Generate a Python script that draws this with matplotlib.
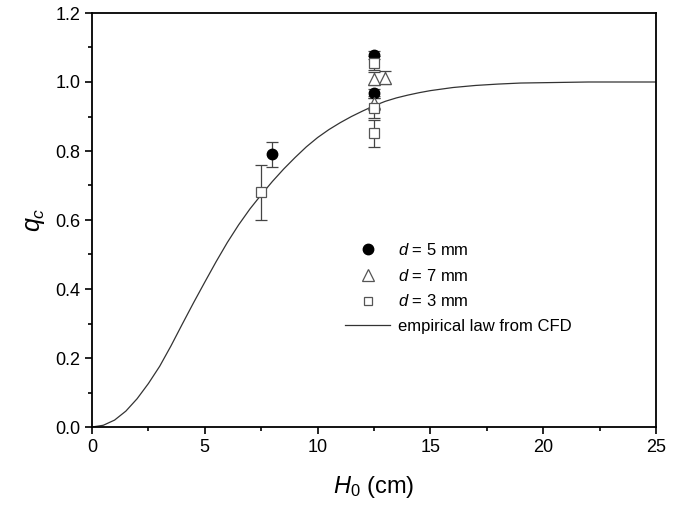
import matplotlib
matplotlib.use("Agg")
import matplotlib.pyplot as plt
from matplotlib.lines import Line2D
from matplotlib.ticker import MultipleLocator, FormatStrFormatter

plt.rcParams['font.family'] = ['Liberation Sans', 'DejaVu Sans']
plt.rcParams['mathtext.fontset'] = 'custom'
plt.rcParams['mathtext.rm'] = 'Liberation Sans'
plt.rcParams['mathtext.it'] = 'Liberation Sans:italic'

# data
h_d5 = [8.0, 12.5, 12.5]
q_d5 = [0.79, 1.078, 0.967]
e_d5 = [0.035, 0.012, 0.012]

h_d7 = [12.5, 12.5, 13.0]
q_d7 = [1.010, 0.940, 1.012]
e_d7 = [0.02, 0.02, 0.019]

h_d3 = [7.5, 12.5, 12.5, 12.5]
q_d3 = [0.680, 1.055, 0.925, 0.851]
e_d3 = [0.08, 0.02, 0.03, 0.04]

h_cfd = [0, 0.5, 1, 1.5, 2, 2.5, 3, 3.5, 4, 4.5, 5, 5.5, 6, 6.5, 7, 7.5, 8, 8.5,
         9, 9.5, 10, 10.5, 11, 11.5, 12, 12.5, 13, 13.5, 14, 14.5, 15, 16, 17,
         18, 19, 20, 21, 22, 23, 24, 25]
q_cfd = [0.0, 0.005, 0.02, 0.046, 0.082, 0.126, 0.176, 0.235, 0.298, 0.36, 0.42,
         0.479, 0.535, 0.586, 0.632, 0.673, 0.712, 0.748, 0.781, 0.812, 0.839,
         0.862, 0.882, 0.9, 0.916, 0.931, 0.944, 0.954, 0.962, 0.969, 0.975,
         0.984, 0.99, 0.994, 0.997, 0.998, 0.999, 1.0, 1.0, 1.0, 1.0]

fig = plt.figure(figsize=(6.9, 5.11), dpi=100)
ax = fig.add_axes([92/690, (511-427)/511, (656-92)/690, (427-13)/511])

ax.plot(h_cfd, q_cfd, color='#333333', lw=0.9, zorder=2)

ebkw = dict(capsize=4, elinewidth=0.9, capthick=0.9, ecolor='#444444', lw=0, zorder=3)
ax.errorbar(h_d5, q_d5, yerr=e_d5, fmt='o', ms=7.5, mfc='black', mec='black', **ebkw)
ax.errorbar(h_d7, q_d7, yerr=e_d7, fmt='^', ms=8, mfc='white', mec='#555555',
            mew=0.9, **ebkw)
ax.errorbar(h_d3, q_d3, yerr=e_d3, fmt='s', ms=7, mfc='white', mec='#555555',
            mew=0.9, **ebkw)

ax.set_xlim(0, 25)
ax.set_ylim(0, 1.2)
ax.xaxis.set_major_locator(MultipleLocator(5))
ax.xaxis.set_minor_locator(MultipleLocator(2.5))
ax.yaxis.set_major_locator(MultipleLocator(0.2))
ax.yaxis.set_minor_locator(MultipleLocator(0.1))
ax.yaxis.set_major_formatter(FormatStrFormatter('%.1f'))
ax.tick_params(which='both', direction='out', top=False, right=False,
               labelsize=13, width=1.2)
ax.tick_params(which='major', length=5)
ax.tick_params(which='minor', length=3)
for s in ax.spines.values():
    s.set_linewidth(1.3)

ax.set_xlabel(r'$H_{\mathrm{0}}$ (cm)', fontsize=17, labelpad=13)
ax.set_ylabel(r'$q_c$', fontsize=18, labelpad=6)

handles = [
    Line2D([], [], ls='none', marker='o', ms=7.5, mfc='black', mec='black'),
    Line2D([], [], ls='none', marker='^', ms=8, mfc='white', mec='#555555', mew=0.9),
    Line2D([], [], ls='none', marker='s', ms=6, mfc='white', mec='#555555', mew=0.9),
    Line2D([], [], color='#333333', lw=0.9),
]
labels = [r'$d$ = 5 mm', r'$d$ = 7 mm', r'$d$ = 3 mm', 'empirical law from CFD']
ax.legend(handles, labels, loc='upper left',
          bbox_to_anchor=((345-92)/564, (427-242)/414),
          frameon=False, fontsize=12, handlelength=2.7, handletextpad=0.45,
          borderpad=0, borderaxespad=0, labelspacing=0.58)

fig.savefig('out.png', dpi=100)
